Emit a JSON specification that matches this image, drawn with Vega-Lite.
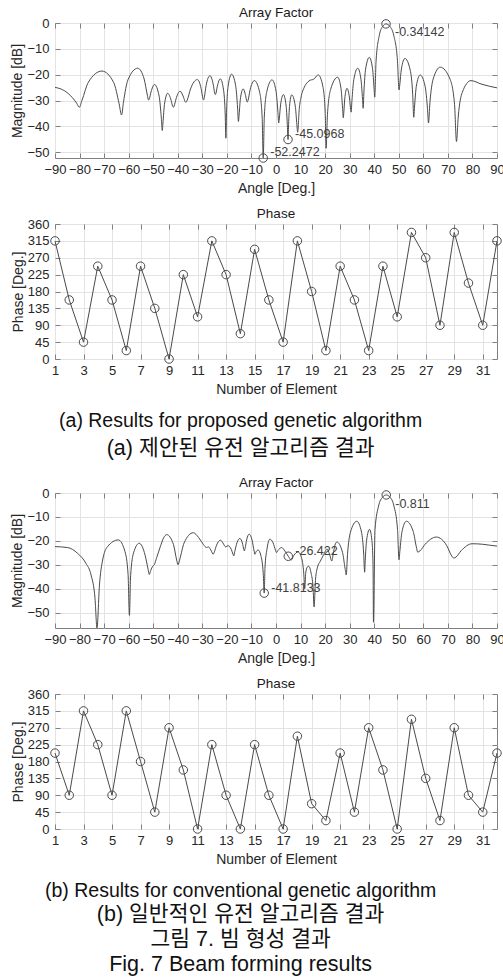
{
  "$schema": "https://vega.github.io/schema/vega-lite/v6.json",
  "padding": {"left": 10, "top": 5, "right": 0, "bottom": 2},
  "background": "white",
  "config": {
    "font": "Liberation Sans",
    "view": {"stroke": "#808080", "strokeWidth": 1},
    "axis": {
      "domain": false, "tickColor": "#808080", "tickSize": -5, "gridColor": "#e3e3e3", "gridOpacity": 1,
      "labelColor": "#262626", "titleColor": "#262626", "labelFontSize": 13, "titleFontSize": 14,
      "titleFontWeight": "normal", "labelFlush": false, "labelOverlap": false, "labelFont": "Liberation Sans", "titleFont": "Liberation Sans"
    },
    "axisX": {"labelPadding": 10, "titlePadding": 5},
    "axisY": {"labelPadding": 11, "titlePadding": 2},
    "title": {"fontWeight": "normal", "fontSize": 13.5, "color": "#1a1a1a", "font": "Liberation Sans", "offset": -2}
  },
  "datasets": {
    "af1": [
      {"a":-90,"db":-24.9},{"a":-86,"db":-26.3},{"a":-83,"db":-28.8},{"a":-81.2,"db":-31.0},{"a":-80.1,"db":-32.6},{"a":-79.0,"db":-29.9},{"a":-76.4,"db":-22.9},{"a":-70.9,"db":-18.6},
      {"a":-66.1,"db":-23.05},{"a":-63.9,"db":-31.2},{"a":-62.9,"db":-35.6},{"a":-62.1,"db":-30.5},{"a":-60.3,"db":-22.0},{"a":-56.3,"db":-17.5},{"a":-53.7,"db":-21.65},{"a":-52.4,"db":-27.9},
      {"a":-51.9,"db":-29.8},{"a":-51.6,"db":-29.4},{"a":-50.9,"db":-26.7},{"a":-49.5,"db":-23.8},{"a":-47.6,"db":-28.3},{"a":-46.7,"db":-36.7},{"a":-46.3,"db":-41.6},{"a":-46.04,"db":-38.7},
      {"a":-45.42,"db":-31.5},{"a":-44.1,"db":-27.2},{"a":-42.72,"db":-29.9},{"a":-42.08,"db":-32.25},{"a":-41.8,"db":-32.6},{"a":-41.48,"db":-32.15},{"a":-40.72,"db":-29.4},{"a":-39.1,"db":-26.4},
      {"a":-37.66,"db":-28.7},{"a":-36.99,"db":-30.45},{"a":-36.7,"db":-30.7},{"a":-36.14,"db":-29.8},{"a":-34.82,"db":-25.54},{"a":-32.0,"db":-21.9},{"a":-30.5,"db":-25.35},{"a":-29.8,"db":-29.1},
      {"a":-29.5,"db":-29.8},{"a":-29.19,"db":-28.75},{"a":-28.46,"db":-24.15},{"a":-26.9,"db":-20.4},{"a":-25.58,"db":-23.7},{"a":-24.96,"db":-27.1},{"a":-24.7,"db":-27.7},{"a":-24.46,"db":-27.25},
      {"a":-23.9,"db":-24.55},{"a":-22.7,"db":-21.6},{"a":-21.32,"db":-26.16},{"a":-20.68,"db":-35.6},{"a":-20.4,"db":-44.6},{"a":-20.12,"db":-34.0},{"a":-19.48,"db":-24.37},{"a":-18.1,"db":-19.8},
      {"a":-16.42,"db":-24.3},{"a":-15.64,"db":-32.9},{"a":-15.3,"db":-38.1},{"a":-15.07,"db":-36.1},{"a":-14.54,"db":-29.7},{"a":-13.4,"db":-25.5},{"a":-12.38,"db":-28.1},{"a":-11.9,"db":-30.3},
      {"a":-11.7,"db":-30.6},{"a":-11.35,"db":-29.8},{"a":-10.54,"db":-25.83},{"a":-8.8,"db":-22.3},{"a":-6.64,"db":-26.9},{"a":-5.63,"db":-36.7},{"a":-5.2,"db":-52.2472},{"a":-4.77,"db":-36.4},
      {"a":-3.76,"db":-26.6},{"a":-1.6,"db":-22.0},{"a":0.02,"db":-26.43},{"a":0.78,"db":-34.5},{"a":1.1,"db":-38.7},{"a":1.33,"db":-37.2},{"a":1.86,"db":-31.7},{"a":3.0,"db":-27.7},
      {"a":4.14,"db":-32.16},{"a":4.67,"db":-40.5},{"a":4.9,"db":-45.0968},{"a":5.08,"db":-40.6},{"a":5.5,"db":-32.26},{"a":6.4,"db":-27.8},{"a":7.84,"db":-32.1},{"a":8.51,"db":-39.4},
      {"a":8.8,"db":-42.3},{"a":9.5,"db":-33.0},{"a":10.2,"db":-28.7},{"a":11.5,"db":-24.9},{"a":12.9,"db":-22.9},{"a":14.0,"db":-22.1},{"a":15.0,"db":-21.9},{"a":15.8,"db":-21.4},
      {"a":16.5,"db":-20.5},{"a":17.2,"db":-20.1},{"a":19.12,"db":-24.7},{"a":20.02,"db":-34.45},{"a":20.4,"db":-48.5},{"a":20.96,"db":-35.35},{"a":22.28,"db":-25.6},{"a":25.1,"db":-21.0},
      {"a":26.48,"db":-25.4},{"a":27.12,"db":-33.1},{"a":27.4,"db":-36.7},{"a":27.58,"db":-35.1},{"a":28.0,"db":-29.35},{"a":28.9,"db":-25.3},{"a":29.92,"db":-29.0},{"a":30.4,"db":-33.5},
      {"a":30.6,"db":-34.5},{"a":30.92,"db":-30.1},{"a":31.68,"db":-21.95},{"a":33.3,"db":-17.5},{"a":34.62,"db":-21.9},{"a":35.24,"db":-29.5},{"a":35.5,"db":-33.0},{"a":35.8,"db":-26.7},
      {"a":36.5,"db":-17.82},{"a":38.0,"db":-13.3},{"a":39.32,"db":-17.7},{"a":39.94,"db":-25.3},{"a":40.2,"db":-28.7},{"a":40.75,"db":-14.7},{"a":42.04,"db":-4.94},{"a":43.42,"db":-1.34},
      {"a":44.8,"db":-0.34142},{"a":46.39,"db":-1.34},{"a":47.98,"db":-4.91},{"a":49.46,"db":-14.54},{"a":50.1,"db":-25.9},{"a":50.39,"db":-24.0},{"a":51.06,"db":-17.84},{"a":52.5,"db":-13.7},
      {"a":54.66,"db":-18.26},{"a":55.67,"db":-27.65},{"a":56.1,"db":-36.5},{"a":56.41,"db":-32.5},{"a":57.14,"db":-24.52},{"a":58.7,"db":-20.1},{"a":60.74,"db":-24.59},{"a":61.69,"db":-33.2},
      {"a":62.1,"db":-38.7},{"a":62.68,"db":-30.8},{"a":64.02,"db":-21.65},{"a":66.9,"db":-17.1},{"a":70.86,"db":-21.7},{"a":72.71,"db":-31.5},{"a":73.5,"db":-45.9},{"a":74.21,"db":-36.35},
      {"a":75.86,"db":-26.86},{"a":79.4,"db":-22.3},{"a":83.5,"db":-23.6},{"a":87,"db":-24.5},{"a":90,"db":-25.1}
    ],
    "mk1": [
      {"a":44.8,"db":-0.34142,"lbl":"-0.34142","k":"p"},
      {"a":4.9,"db":-45.0968,"lbl":"-45.0968","k":"n"},
      {"a":-5.2,"db":-52.2472,"lbl":"-52.2472","k":"n"}
    ],
    "af2": [
      {"a":-90,"db":-22.4},{"a":-84.8,"db":-22.8},{"a":-80.8,"db":-25.2},{"a":-77.4,"db":-29.4},{"a":-75.3,"db":-34.3},{"a":-73.7,"db":-44.1},{"a":-72.9,"db":-56.4},{"a":-71.9,"db":-38.5},
      {"a":-70.6,"db":-28.0},{"a":-68.6,"db":-22.4},{"a":-64.2,"db":-19.6},{"a":-61.5,"db":-24.5},{"a":-60.24,"db":-34.0},{"a":-59.7,"db":-51.1},{"a":-59.2,"db":-34.5},{"a":-58.0,"db":-25.0},
      {"a":-55.7,"db":-21.0},{"a":-53.3,"db":-26.0},{"a":-52.1,"db":-31.8},{"a":-51.6,"db":-34.0},{"a":-51.0,"db":-32.3},{"a":-50.2,"db":-30.6},{"a":-49.6,"db":-30.0},{"a":-48.6,"db":-27.0},
      {"a":-47.1,"db":-22.4},{"a":-45.8,"db":-18.8},{"a":-44.5,"db":-17.4},{"a":-41.74,"db":-21.6},{"a":-40.45,"db":-28.0},{"a":-39.9,"db":-30.0},{"a":-39.16,"db":-27.6},{"a":-37.42,"db":-20.85},
      {"a":-33.7,"db":-16.6},{"a":-31.5,"db":-18.6},{"a":-29.5,"db":-21.6},{"a":-28.3,"db":-22.8},{"a":-27.5,"db":-22.5},{"a":-26.3,"db":-24.3},{"a":-25.6,"db":-25.6},{"a":-25.1,"db":-24.6},
      {"a":-24.2,"db":-21.8},{"a":-22.6,"db":-19.7},{"a":-21.6,"db":-20.9},{"a":-20.5,"db":-22.5},{"a":-19.5,"db":-22.0},{"a":-18.2,"db":-23.6},{"a":-17.5,"db":-25.6},{"a":-17.2,"db":-26.3},
      {"a":-16.8,"db":-24.5},{"a":-15.9,"db":-20.8},{"a":-14.7,"db":-19.0},{"a":-13.7,"db":-20.9},{"a":-13.1,"db":-23.6},{"a":-12.9,"db":-24.2},{"a":-12.6,"db":-23.2},{"a":-11.9,"db":-19.3},
      {"a":-10.9,"db":-17.2},{"a":-9.8,"db":-19.5},{"a":-8.9,"db":-24.3},{"a":-8.6,"db":-25.6},{"a":-8.2,"db":-24.7},{"a":-7.3,"db":-23.8},{"a":-6.2,"db":-26.0},{"a":-5.2,"db":-33.5},
      {"a":-4.8,"db":-41.8133},{"a":-4.5,"db":-31.5},{"a":-3.7,"db":-23.6},{"a":-2.5,"db":-19.3},{"a":-1.2,"db":-20.8},{"a":-0.2,"db":-23.9},{"a":0.2,"db":-24.9},{"a":0.8,"db":-24.0},
      {"a":2.3,"db":-22.8},{"a":3.6,"db":-24.2},{"a":5.0,"db":-26.422},{"a":6.2,"db":-28.0},{"a":7.3,"db":-26.0},{"a":9.0,"db":-24.6},{"a":10.5,"db":-27.5},{"a":11.3,"db":-33.5},
      {"a":11.7,"db":-40.0},{"a":12.1,"db":-33.5},{"a":12.7,"db":-31.0},{"a":13.3,"db":-30.6},{"a":14.3,"db":-33.5},{"a":15.1,"db":-39.5},{"a":15.5,"db":-47.6},{"a":16.1,"db":-36.0},
      {"a":16.9,"db":-31.0},{"a":18.0,"db":-28.6},{"a":19.3,"db":-26.0},{"a":20.8,"db":-23.4},{"a":21.8,"db":-25.5},{"a":22.7,"db":-28.4},{"a":23.3,"db":-25.5},{"a":24.0,"db":-21.8},
      {"a":24.8,"db":-20.5},{"a":27.08,"db":-24.77},{"a":28.14,"db":-31.6},{"a":28.6,"db":-34.2},{"a":29.12,"db":-25.7},{"a":30.32,"db":-16.35},{"a":32.9,"db":-11.8},{"a":34.82,"db":-16.35},
      {"a":35.72,"db":-25.5},{"a":36.1,"db":-33.1},{"a":36.34,"db":-28.15},{"a":36.9,"db":-19.68},{"a":38.1,"db":-15.2},{"a":39.06,"db":-19.8},{"a":39.51,"db":-29.7},{"a":39.7,"db":-54.0},
      {"a":40.32,"db":-15.3},{"a":41.78,"db":-5.4},{"a":43.34,"db":-1.81},{"a":44.9,"db":-0.811},{"a":46.46,"db":-1.81},{"a":48.02,"db":-5.38},{"a":49.48,"db":-15.1},{"a":50.1,"db":-27.9},
      {"a":50.46,"db":-24.1},{"a":51.3,"db":-16.21},{"a":53.1,"db":-11.8},{"a":55.86,"db":-16.0},{"a":57.15,"db":-22.5},{"a":57.7,"db":-24.7},{"a":58.61,"db":-24.2},{"a":60.74,"db":-21.4},
      {"a":65.3,"db":-18.4},{"a":69.56,"db":-22.04},{"a":71.55,"db":-26.3},{"a":72.4,"db":-27.2},{"a":73.3,"db":-26.77},{"a":75.4,"db":-24.12},{"a":79.9,"db":-21.2},{"a":84,"db":-21.4},
      {"a":87,"db":-21.8},{"a":90,"db":-22.2}
    ],
    "mk2": [
      {"a":44.9,"db":-0.811,"lbl":"-0.811","k":"p"},
      {"a":5.0,"db":-26.422,"lbl":"-26.422","k":"n"},
      {"a":-4.8,"db":-41.8133,"lbl":"-41.8133","k":"n"}
    ],
    "ph1": [
      {"n":1,"p":315},{"n":2,"p":157.5},{"n":3,"p":45},{"n":4,"p":247.5},{"n":5,"p":157.5},{"n":6,"p":22.5},{"n":7,"p":247.5},{"n":8,"p":135},
      {"n":9,"p":0},{"n":10,"p":225},{"n":11,"p":112.5},{"n":12,"p":315},{"n":13,"p":225},{"n":14,"p":67.5},{"n":15,"p":292.5},{"n":16,"p":157.5},
      {"n":17,"p":45},{"n":18,"p":315},{"n":19,"p":180},{"n":20,"p":22.5},{"n":21,"p":247.5},{"n":22,"p":157.5},{"n":23,"p":22.5},{"n":24,"p":247.5},
      {"n":25,"p":112.5},{"n":26,"p":337.5},{"n":27,"p":270},{"n":28,"p":90},{"n":29,"p":337.5},{"n":30,"p":202.5},{"n":31,"p":90},{"n":32,"p":315}
    ],
    "ph2": [
      {"n":1,"p":202.5},{"n":2,"p":90},{"n":3,"p":315},{"n":4,"p":225},{"n":5,"p":90},{"n":6,"p":315},{"n":7,"p":180},{"n":8,"p":45},
      {"n":9,"p":270},{"n":10,"p":157.5},{"n":11,"p":0},{"n":12,"p":225},{"n":13,"p":90},{"n":14,"p":0},{"n":15,"p":225},{"n":16,"p":90},
      {"n":17,"p":0},{"n":18,"p":247.5},{"n":19,"p":67.5},{"n":20,"p":22.5},{"n":21,"p":202.5},{"n":22,"p":45},{"n":23,"p":270},{"n":24,"p":157.5},
      {"n":25,"p":0},{"n":26,"p":292.5},{"n":27,"p":135},{"n":28,"p":22.5},{"n":29,"p":270},{"n":30,"p":90},{"n":31,"p":45},{"n":32,"p":202.5}
    ]
  },
  "spacing": 15,
  "vconcat": [
    {
      "spacing": 10,
      "title": {"text": "(a) Results for proposed genetic algorithm", "subtitle": "(a) 제안된 유전 알고리즘 결과", "orient": "bottom", "anchor": "middle", "fontSize": 19.5, "lineHeight": 25, "offset": 15, "dx": -17, "font": "Liberation Sans", "color": "#111111", "subtitleFont": "Liberation Sans, Noto Sans CJK KR", "subtitleFontSize": 21.5, "subtitleColor": "#111111", "subtitleLineHeight": 25, "subtitlePadding": 7},
      "vconcat": [
        {
          "width": 442, "height": 135,
          "title": {"text": "Array Factor"},
          "layer": [
            {
              "data": {"name": "af1"},
              "mark": {"type": "line", "color": "#4a4a4a", "strokeWidth": 1, "interpolate": "monotone", "clip": true},
              "encoding": {
                "x": {"field": "a", "type": "quantitative", "scale": {"domain": [-90, 90], "nice": false, "zero": false}, "axis": {"values": [-90,-80,-70,-60,-50,-40,-30,-20,-10,0,10,20,30,40,50,60,70,80,90], "title": "Angle [Deg.]"}},
                "y": {"field": "db", "type": "quantitative", "scale": {"domain": [-52.25, 0], "nice": false, "zero": false}, "axis": {"values": [0,-10,-20,-30,-40,-50], "title": "Magnitude [dB]"}}
              }
            },
            {
              "data": {"name": "mk1"},
              "mark": {"type": "point", "shape": "circle", "size": 72, "filled": false, "color": "#4a4a4a", "strokeWidth": 1, "opacity": 1},
              "encoding": {
                "x": {"field": "a", "type": "quantitative", "scale": {"domain": [-90, 90], "nice": false, "zero": false}, "axis": {"orient": "top", "values": [-90,-80,-70,-60,-50,-40,-30,-20,-10,0,10,20,30,40,50,60,70,80,90], "labels": false, "title": null, "grid": false}},
                "y": {"field": "db", "type": "quantitative", "scale": {"domain": [-52.25, 0], "nice": false, "zero": false}, "axis": {"orient": "right", "values": [0,-10,-20,-30,-40,-50], "labels": false, "title": null, "grid": false}}
              }
            },
            {
              "data": {"name": "mk1"},
              "transform": [{"filter": "datum.k == 'p'"}],
              "mark": {"type": "text", "align": "left", "baseline": "middle", "dx": 9, "dy": 8, "fontSize": 12.5, "color": "#404040"},
              "encoding": {
                "x": {"field": "a", "type": "quantitative", "scale": {"domain": [-90, 90], "nice": false, "zero": false}, "axis": null},
                "y": {"field": "db", "type": "quantitative", "scale": {"domain": [-52.25, 0], "nice": false, "zero": false}, "axis": null},
                "text": {"field": "lbl"}
              }
            },
            {
              "data": {"name": "mk1"},
              "transform": [{"filter": "datum.k == 'n'"}],
              "mark": {"type": "text", "align": "left", "baseline": "middle", "dx": 7, "dy": -6, "fontSize": 12.5, "color": "#404040"},
              "encoding": {
                "x": {"field": "a", "type": "quantitative", "scale": {"domain": [-90, 90], "nice": false, "zero": false}, "axis": null},
                "y": {"field": "db", "type": "quantitative", "scale": {"domain": [-52.25, 0], "nice": false, "zero": false}, "axis": null},
                "text": {"field": "lbl"}
              }
            }
          ],
          "resolve": {"axis": {"x": "independent", "y": "independent"}}
        },
        {
          "width": 442, "height": 135,
          "title": {"text": "Phase"},
          "layer": [
            {
              "data": {"name": "ph1"},
              "mark": {"type": "line", "color": "#4a4a4a", "strokeWidth": 1},
              "encoding": {
                "x": {"field": "n", "type": "quantitative", "scale": {"domain": [1, 32], "nice": false, "zero": false}, "axis": {"values": [1,3,5,7,9,11,13,15,17,19,21,23,25,27,29,31], "title": "Number of Element"}},
                "y": {"field": "p", "type": "quantitative", "scale": {"domain": [0, 360], "nice": false}, "axis": {"values": [0,45,90,135,180,225,270,315,360], "title": "Phase [Deg.]"}}
              }
            },
            {
              "data": {"name": "ph1"},
              "mark": {"type": "point", "shape": "circle", "size": 72, "filled": false, "color": "#4a4a4a", "strokeWidth": 1, "opacity": 1},
              "encoding": {
                "x": {"field": "n", "type": "quantitative", "scale": {"domain": [1, 32], "nice": false, "zero": false}, "axis": {"orient": "top", "values": [1,3,5,7,9,11,13,15,17,19,21,23,25,27,29,31], "labels": false, "title": null, "grid": false}},
                "y": {"field": "p", "type": "quantitative", "scale": {"domain": [0, 360], "nice": false}, "axis": {"orient": "right", "values": [0,45,90,135,180,225,270,315,360], "labels": false, "title": null, "grid": false}}
              }
            }
          ],
          "resolve": {"axis": {"x": "independent", "y": "independent"}}
        }
      ]
    },
    {
      "spacing": 10,
      "title": {"text": "(b) Results for conventional genetic algorithm", "subtitle": ["(b) 일반적인 유전 알고리즘 결과", "그림 7. 빔 형성 결과", "Fig. 7 Beam forming results"], "orient": "bottom", "anchor": "middle", "fontSize": 19.5, "lineHeight": 25, "offset": 15, "dx": -17, "font": "Liberation Sans", "color": "#111111", "subtitleFont": "Liberation Sans, Noto Sans CJK KR", "subtitleFontSize": 21.5, "subtitleColor": "#111111", "subtitleLineHeight": 25, "subtitlePadding": 3},
      "vconcat": [
        {
          "width": 442, "height": 135,
          "title": {"text": "Array Factor"},
          "layer": [
            {
              "data": {"name": "af2"},
              "mark": {"type": "line", "color": "#4a4a4a", "strokeWidth": 1, "interpolate": "monotone", "clip": true},
              "encoding": {
                "x": {"field": "a", "type": "quantitative", "scale": {"domain": [-90, 90], "nice": false, "zero": false}, "axis": {"values": [-90,-80,-70,-60,-50,-40,-30,-20,-10,0,10,20,30,40,50,60,70,80,90], "title": "Angle [Deg.]"}},
                "y": {"field": "db", "type": "quantitative", "scale": {"domain": [-56.4, 0], "nice": false, "zero": false}, "axis": {"values": [0,-10,-20,-30,-40,-50], "title": "Magnitude [dB]"}}
              }
            },
            {
              "data": {"name": "mk2"},
              "mark": {"type": "point", "shape": "circle", "size": 72, "filled": false, "color": "#4a4a4a", "strokeWidth": 1, "opacity": 1},
              "encoding": {
                "x": {"field": "a", "type": "quantitative", "scale": {"domain": [-90, 90], "nice": false, "zero": false}, "axis": {"orient": "top", "values": [-90,-80,-70,-60,-50,-40,-30,-20,-10,0,10,20,30,40,50,60,70,80,90], "labels": false, "title": null, "grid": false}},
                "y": {"field": "db", "type": "quantitative", "scale": {"domain": [-56.4, 0], "nice": false, "zero": false}, "axis": {"orient": "right", "values": [0,-10,-20,-30,-40,-50], "labels": false, "title": null, "grid": false}}
              }
            },
            {
              "data": {"name": "mk2"},
              "transform": [{"filter": "datum.k == 'p'"}],
              "mark": {"type": "text", "align": "left", "baseline": "middle", "dx": 9, "dy": 9, "fontSize": 12.5, "color": "#404040"},
              "encoding": {
                "x": {"field": "a", "type": "quantitative", "scale": {"domain": [-90, 90], "nice": false, "zero": false}, "axis": null},
                "y": {"field": "db", "type": "quantitative", "scale": {"domain": [-56.4, 0], "nice": false, "zero": false}, "axis": null},
                "text": {"field": "lbl"}
              }
            },
            {
              "data": {"name": "mk2"},
              "transform": [{"filter": "datum.k == 'n'"}],
              "mark": {"type": "text", "align": "left", "baseline": "middle", "dx": 7, "dy": -5, "fontSize": 12.5, "color": "#404040"},
              "encoding": {
                "x": {"field": "a", "type": "quantitative", "scale": {"domain": [-90, 90], "nice": false, "zero": false}, "axis": null},
                "y": {"field": "db", "type": "quantitative", "scale": {"domain": [-56.4, 0], "nice": false, "zero": false}, "axis": null},
                "text": {"field": "lbl"}
              }
            }
          ],
          "resolve": {"axis": {"x": "independent", "y": "independent"}}
        },
        {
          "width": 442, "height": 135,
          "title": {"text": "Phase"},
          "layer": [
            {
              "data": {"name": "ph2"},
              "mark": {"type": "line", "color": "#4a4a4a", "strokeWidth": 1},
              "encoding": {
                "x": {"field": "n", "type": "quantitative", "scale": {"domain": [1, 32], "nice": false, "zero": false}, "axis": {"values": [1,3,5,7,9,11,13,15,17,19,21,23,25,27,29,31], "title": "Number of Element"}},
                "y": {"field": "p", "type": "quantitative", "scale": {"domain": [0, 360], "nice": false}, "axis": {"values": [0,45,90,135,180,225,270,315,360], "title": "Phase [Deg.]"}}
              }
            },
            {
              "data": {"name": "ph2"},
              "mark": {"type": "point", "shape": "circle", "size": 72, "filled": false, "color": "#4a4a4a", "strokeWidth": 1, "opacity": 1},
              "encoding": {
                "x": {"field": "n", "type": "quantitative", "scale": {"domain": [1, 32], "nice": false, "zero": false}, "axis": {"orient": "top", "values": [1,3,5,7,9,11,13,15,17,19,21,23,25,27,29,31], "labels": false, "title": null, "grid": false}},
                "y": {"field": "p", "type": "quantitative", "scale": {"domain": [0, 360], "nice": false}, "axis": {"orient": "right", "values": [0,45,90,135,180,225,270,315,360], "labels": false, "title": null, "grid": false}}
              }
            }
          ],
          "resolve": {"axis": {"x": "independent", "y": "independent"}}
        }
      ]
    }
  ]
}
